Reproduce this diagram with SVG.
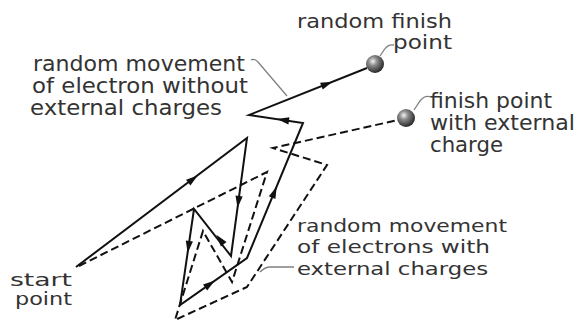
<svg xmlns="http://www.w3.org/2000/svg" xmlns:xlink="http://www.w3.org/1999/xlink" width="579" height="327" viewBox="0 0 579 327">
<style>
  .lbl { font-family: "DejaVu Sans", "Liberation Sans", sans-serif; font-size: 21px; fill: #333333; }
  .f19 { font-size: 19px; }
  .f185 { font-size: 18.5px; }
  .sm { font-size: 17px; }
  .solid { fill: none; stroke: #111; stroke-width: 2; stroke-linejoin: miter; }
  .dash { fill: none; stroke: #111; stroke-width: 2; stroke-dasharray: 8 4; }
  .leader { fill: none; stroke: #808080; stroke-width: 1.3; }
  .ah { fill: #111; }
</style>
<defs>
  <radialGradient id="ball" cx="0.38" cy="0.35" r="0.7">
    <stop offset="0" stop-color="#f2f2f2"/>
    <stop offset="0.35" stop-color="#8a8a8a"/>
    <stop offset="1" stop-color="#1e1e1e"/>
  </radialGradient>
  <polygon id="ahd" points="6,0 -6,-3.6 -6,3.6"/>
</defs>
<rect width="579" height="327" fill="#ffffff"/>

<g id="connectors">
  <polyline id="path-without" class="solid" points="76,267 247,138 231,256 194,209 180,305 247,258 303,123 249,115 367,68"/>
  <polyline id="path-with" class="dash" points="79,266 267,172 232,282 203,231 175,320 247,287 327,165 273,148 398,120"/>
  <g class="ah">
    <use xlink:href="#ahd" transform="translate(193,179) rotate(-37)"/>
    <use xlink:href="#ahd" transform="translate(238.3,202) rotate(97.7)"/>
    <use xlink:href="#ahd" transform="translate(220,239.5) rotate(-128.2)"/>
    <use xlink:href="#ahd" transform="translate(188.5,247) rotate(98.3)"/>
    <use xlink:href="#ahd" transform="translate(210,284) rotate(-35)"/>
    <use xlink:href="#ahd" transform="translate(274.4,192) rotate(-67.5)"/>
    <use xlink:href="#ahd" transform="translate(283,120) rotate(-171.6)"/>
    <use xlink:href="#ahd" transform="translate(327,84) rotate(-21.7)"/>
  </g>
  <path class="leader" d="M251,60 C254,58 256,60 258,62 L287,96"/>
  <path class="leader" d="M394,45 C389,44 386,47 384,50 L380,56"/>
  <path class="leader" d="M431,97 C426,95 423,97 420,101 L414,110"/>
  <path class="leader" d="M294,267 L270,267 C266,267 263,269 260,272"/>
</g>

<g id="random-finish-point">
  <circle cx="375" cy="64" r="9" fill="url(#ball)"/>
  <text class="lbl f19" x="297" y="28" textLength="155" lengthAdjust="spacingAndGlyphs">random finish</text>
  <text class="lbl f19" x="393" y="49" textLength="59" lengthAdjust="spacingAndGlyphs">point</text>
</g>

<g id="finish-point-external">
  <circle cx="406" cy="118" r="9" fill="url(#ball)"/>
  <text class="lbl" x="430" y="108" textLength="122" lengthAdjust="spacingAndGlyphs">finish point</text>
  <text class="lbl" x="430" y="130" textLength="145" lengthAdjust="spacingAndGlyphs">with external</text>
  <text class="lbl" x="430" y="152" textLength="73" lengthAdjust="spacingAndGlyphs">charge</text>
</g>

<g id="label-without">
  <text class="lbl" x="33" y="71" textLength="212" lengthAdjust="spacingAndGlyphs">random movement</text>
  <text class="lbl" x="32" y="93" textLength="216" lengthAdjust="spacingAndGlyphs">of electron without</text>
  <text class="lbl" x="30" y="115" textLength="192" lengthAdjust="spacingAndGlyphs">external charges</text>
</g>

<g id="label-with">
  <text class="lbl f185" x="297" y="231.5" textLength="210" lengthAdjust="spacingAndGlyphs">random movement</text>
  <text class="lbl f185" x="297" y="253" textLength="193" lengthAdjust="spacingAndGlyphs">of electrons with</text>
  <text class="lbl f185" x="297" y="274.5" textLength="191" lengthAdjust="spacingAndGlyphs">external charges</text>
</g>

<g id="start-point">
  <text class="lbl sm" x="10" y="286" textLength="62" lengthAdjust="spacingAndGlyphs">start</text>
  <text class="lbl sm" x="15" y="305" textLength="57" lengthAdjust="spacingAndGlyphs">point</text>
</g>
</svg>
